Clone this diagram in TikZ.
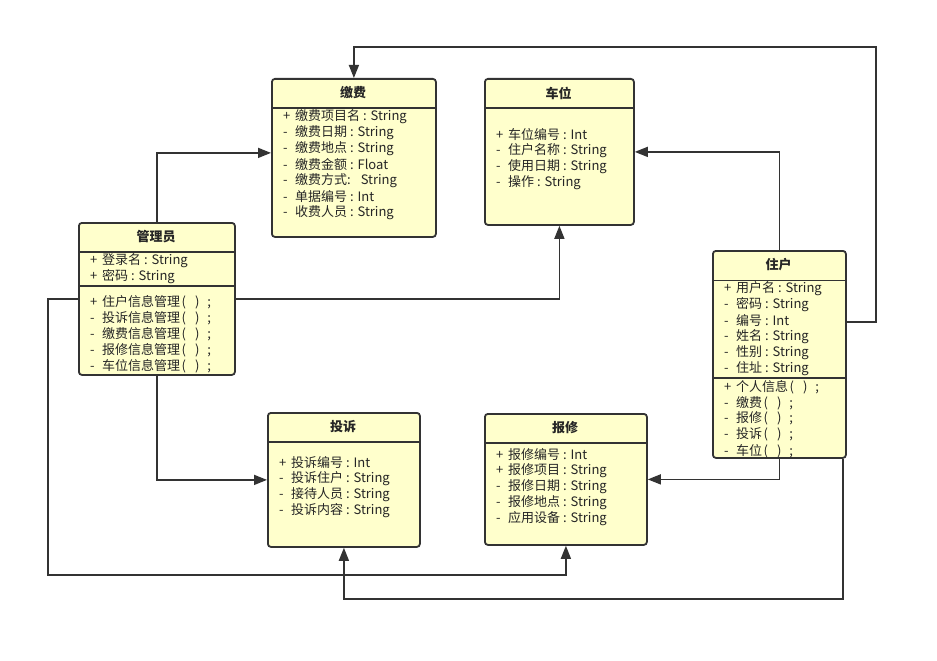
\documentclass[tikz,border=0pt]{standalone}
\usepackage{fontspec}
\setmainfont{Noto Sans CJK SC}
\usetikzlibrary{arrows.meta}
\definecolor{boxfill}{HTML}{FFFFCC}
\definecolor{ink}{HTML}{333333}
\definecolor{txtc}{HTML}{262626}
\newcommand\parenx{\hspace{1.5pt}(\hspace{9pt})\hspace{8pt};}
\tikzset{
  umlbox/.style={draw=ink, fill=boxfill, line width=1.8pt, rounded corners=3pt, anchor=north west, inner sep=0pt},
  divider/.style={draw=ink, line width=1.8pt},
  conn/.style={draw=ink, line width=1.5pt, -{Triangle[length=13pt,width=10pt]}},
  title/.style={font=\fontsize{13}{16}\selectfont\bfseries, text=txtc, inner sep=0pt},
  item/.style={font=\fontsize{13}{16}\selectfont, text=txtc, anchor=west, inner sep=0pt},
}
\begin{document}
\begin{tikzpicture}[x=1pt,y=-1pt]
\useasboundingbox[fill=white] (0,0) rectangle (937,661);

% ---- 缴费
\node[umlbox, minimum width=164pt, minimum height=158pt] (jf) at (271,78) {};
\node[title] (jf-t) at (353,93) {缴费};
\draw[divider] (271,107.7) -- (435,107.7);
\foreach \m/\t [count=\i from 0] in {+/缴费项目名 : String, -/缴费日期 : String, -/缴费地点 : String, -/缴费金额 : Float, -/缴费方式:\hspace{10pt}String, -/单据编号 : Int, -/收费人员 : String}
  \node[item] (jf-\i) at (283,116.5+16*\i) {\makebox[12pt][l]{\m}\t};

% ---- 车位
\node[umlbox, minimum width=149pt, minimum height=146pt] (cw) at (484,78) {};
\node[title] (cw-t) at (558.5,93) {车位};
\draw[divider] (484,107.7) -- (633,107.7);
\foreach \m/\t [count=\i from 0] in {+/车位编号 : Int, -/住户名称 : String, -/使用日期 : String, -/操作 : String}
  \node[item] (cw-\i) at (496,134.2+16*\i) {\makebox[12pt][l]{\m}\t};

% ---- 管理员
\node[umlbox, minimum width=156pt, minimum height=152pt] (gl) at (78,222) {};
\node[title] (gl-t) at (156,237) {管理员};
\draw[divider] (78,251.7) -- (234,251.7);
\draw[divider] (78,286) -- (234,286);
\foreach \m/\t [count=\i from 0] in {+/登录名 : String, +/密码 : String}
  \node[item] (gl-a\i) at (90,260.7+16*\i) {\makebox[12pt][l]{\m}\t};
\foreach \m/\t [count=\i from 0] in {+/住户信息管理\parenx, -/投诉信息管理\parenx, -/缴费信息管理\parenx, -/报修信息管理\parenx, -/车位信息管理\parenx}
  \node[item] (gl-m\i) at (90,302.5+16*\i) {\makebox[12pt][l]{\m}\t};

% ---- 住户
\node[umlbox, minimum width=133pt, minimum height=207pt] (zh) at (712,250) {};
\node[title] (zh-t) at (778.5,265) {住户};
\draw[divider] (712,280.5) -- (845,280.5);
\draw[divider] (712,377.7) -- (845,377.7);
\foreach \m/\t [count=\i from 0] in {+/用户名 : String, -/密码 : String, -/编号 : Int, -/姓名 : String, -/性别 : String, -/住址 : String}
  \node[item] (zh-a\i) at (724,288.8+16*\i) {\makebox[12pt][l]{\m}\t};
\foreach \m/\t [count=\i from 0] in {+/个人信息\parenx, -/缴费\parenx, -/报修\parenx, -/投诉\parenx, -/车位\parenx}
  \node[item] (zh-m\i) at (724,386.8+16*\i) {\makebox[12pt][l]{\m}\t};

% ---- 投诉
\node[umlbox, minimum width=152pt, minimum height=134pt] (ts) at (267,412) {};
\node[title] (ts-t) at (343,427) {投诉};
\draw[divider] (267,441.7) -- (419,441.7);
\foreach \m/\t [count=\i from 0] in {+/投诉编号 : Int, -/投诉住户 : String, -/接待人员 : String, -/投诉内容 : String}
  \node[item] (ts-\i) at (279,462.5+16*\i) {\makebox[12pt][l]{\m}\t};

% ---- 报修
\node[umlbox, minimum width=162pt, minimum height=131pt] (bx) at (484,413) {};
\node[title] (bx-t) at (565,428) {报修};
\draw[divider] (484,443) -- (646,443);
\foreach \m/\t [count=\i from 0] in {+/报修编号 : Int, +/报修项目 : String, -/报修日期 : String, -/报修地点 : String, -/应用设备 : String}
  \node[item] (bx-\i) at (496,454.5+16*\i) {\makebox[12pt][l]{\m}\t};

% ---- connectors
\coordinate (c1) at (876,47);
\coordinate (c2) at (48,575);
\coordinate (c3) at (600,599);
\draw[conn] ([yshift=32.5pt]zh.east) -| (c1) -| (jf.north);
\draw[conn] (gl.north) |- ([yshift=5pt]jf.west);
\draw[conn] (zh.north) |- (cw.east);
\draw[conn] (gl.east) -| (cw.south);
\draw[conn] (gl.south) |- (ts.west);
\draw[conn] (gl.west) -| (c2) -| (bx.south);
\draw[conn] (zh.south) |- (bx.east);
\draw[conn] ([xshift=-4pt]zh.south east) |- (c3) -| (ts.south);
\end{tikzpicture}
\end{document}
